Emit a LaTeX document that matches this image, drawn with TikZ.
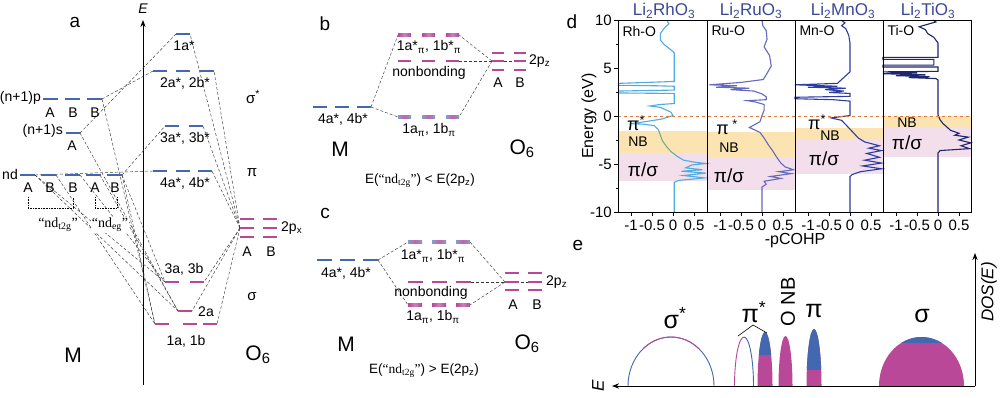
\documentclass[tikz,border=0pt]{standalone}
\usepackage{fontspec}
\setmainfont{Liberation Sans}
\newfontfamily\serifnd{Liberation Serif}
\usetikzlibrary{arrows.meta}

\definecolor{lvblue}{RGB}{67,104,176}
\definecolor{lvpink}{RGB}{185,72,152}
\definecolor{rhcol}{RGB}{80,172,222}
\definecolor{rhmid}{RGB}{110,175,140}
\definecolor{rucol}{RGB}{100,105,190}
\definecolor{mncol}{RGB}{45,60,160}
\definecolor{ticol}{RGB}{30,38,110}
\definecolor{titcol}{RGB}{60,72,150}
\definecolor{nbband}{RGB}{251,228,178}
\definecolor{psband}{RGB}{243,222,236}
\definecolor{efermi}{RGB}{225,125,60}

\newcommand{\fsz}[1]{\fontsize{#1}{#1}\selectfont}

\begin{document}
\begin{tikzpicture}[x=1pt, y=-1pt, >=Stealth,
    lvb/.style={lvblue, line width=2.7pt},
    lvp/.style={lvpink, line width=2.7pt},
    link/.style={gray!45!black, densely dashed, line width=0.45pt},
    lab/.style={font=\fsz{14}, inner sep=1pt},
    biglab/.style={font=\fsz{21}},
    panlab/.style={font=\fsz{19}},
    mixb/.style={left color=lvblue!65, right color=lvblue!65, middle color=lvpink!85},
    mixp/.style={left color=lvpink, right color=lvpink!80!lvblue, middle color=lvpink!70}]

    \fill[white] (0,0) rectangle (1000,397);
    \useasboundingbox (0,0) rectangle (1000,397);

    % ================= a: MO diagram of MO6 =================
    \node[panlab] (la) at (75,22) {a};
    % 1. energy axis
    \coordinate (eaxb) at (143,385);
    \coordinate (eaxt) at (143,20);
    \draw[->, line width=0.9pt] (eaxb) -- (eaxt);
    \node[font=\fsz{14}\itshape] (elab) at (143,9) {E};

    % 2. level ends
    \coordinate (np-r) at (102,99);
    \coordinate (ns-r) at (80,133);
    \coordinate (ndA1-r) at (35,175);
    \coordinate (ndB2-r) at (56,175);
    \coordinate (ndB3-r) at (80,175);
    \coordinate (ndA4-r) at (100,175);
    \coordinate (nd-r) at (122,175);
    \coordinate (a1-l) at (176,34);  \coordinate (a1-r) at (190,34);
    \coordinate (a2-l) at (153,71);  \coordinate (a2-r) at (214,71);
    \coordinate (a3-l) at (165,126); \coordinate (a3-r) at (203,126);
    \coordinate (a4-l) at (153,171); \coordinate (a4-r) at (212,171);
    \coordinate (b3-l) at (165,282); \coordinate (b3-r) at (204,282);
    \coordinate (b2-l) at (178,311); \coordinate (b2-r) at (192,311);
    \coordinate (b1-l) at (155,324); \coordinate (b1-r) at (217,324);
    \coordinate (oA-l) at (240,228);

    % 3. correlation lines
    \draw[link] (ns-r) -- (a1-l);
    \draw[link] (np-r) -- (a2-l);
    \draw[link] (np-r) -- (b1-l);
    \draw[link] (ns-r) -- (b2-l);
    \draw[link] (ndA1-r) -- (a4-l);
    \draw[link] (nd-r) -- (a3-l);
    \draw[link] (nd-r) -- (b3-l);
    \draw[link] (nd-r) -- (b1-l);
    \draw[link] (ndA1-r) -- (b3-l);
    \draw[link] (ndA1-r) -- (b2-l);
    \draw[link] (ndB2-r) -- (b1-l);
    \draw[link] (ndB3-r) -- (b3-l);
    \draw[link] (ndA4-r) -- (b2-l);
    \foreach \t in {a1-r,a2-r,a3-r,a4-r,b3-r,b2-r,b1-r}
        \draw[link] (oA-l) -- (\t);

    % 4. M levels
    \foreach \xa in {43,65,87} \draw[lvb] (\xa,99) -- ++(15,0);
    \draw[lvb] (66,133) -- ++(14,0);
    \foreach \xa in {20,41,65,86,107} \draw[lvb] (\xa,175) -- ++(15,0);
    \node[lab, anchor=east] (npl) at (42,98) {(n+1)p};
    \node[lab, anchor=east] (nsl) at (64,131) {(n+1)s};
    \node[lab, anchor=east] (ndl) at (19,174) {nd};
    \foreach \xa/\t [count=\i] in {50/A,73/B,95/B}
        \node[lab] (np\i) at (\xa,113) {\t};
    \node[lab] (ns1) at (72,146) {A};
    \foreach \xa/\t [count=\i] in {28/A,50/B,73/B,95/A,115/B}
        \node[lab] (nd\i) at (\xa,188) {\t};
    \draw[densely dotted, line width=0.6pt] (28,197) -- (28,208) -- (73,208) -- (73,197);
    \draw[densely dotted, line width=0.6pt] (95,197) -- (95,208) -- (117,208) -- (117,197);
    \node[font=\fsz{14}\serifnd, fill=white, inner sep=1pt] (t2g) at (58,225) {“nd\textsubscript{t2g}”};
    \node[font=\fsz{14}\serifnd, fill=white, inner sep=1pt] (eg) at (110,225) {“nd\textsubscript{eg}”};
    \node[biglab] (ma) at (73,355) {M};

    % 5. MO levels
    \draw[lvb] (a1-l) -- ++(14,0);
    \foreach \xa in {153,176,200} \draw[lvb] (\xa,71) -- ++(14,0);
    \foreach \xa in {165,189} \draw[lvb] (\xa,126) -- ++(14,0);
    \foreach \xa in {153,176,198} \draw[lvb] (\xa,171) -- ++(14,0);
    \foreach \xa in {165,190} \draw[lvp] (\xa,282) -- ++(14,0);
    \draw[lvp] (b2-l) -- ++(14,0);
    \foreach \xa in {155,183,203} \draw[lvp] (\xa,324) -- ++(14,0);
    \node[lab] (m1) at (184,46) {1a*};
    \node[lab] (m2) at (185,83) {2a*, 2b*};
    \node[lab] (m3) at (185,138) {3a*, 3b*};
    \node[lab] (m4) at (185,183) {4a*, 4b*};
    \node[lab] (m5) at (184,269) {3a, 3b};
    \node[lab] (m6) at (206,312) {2a};
    \node[lab] (m7) at (186,341) {1a, 1b};
    \node[font=\fsz{15}] (sgs) at (253,97) {σ\textsuperscript{*}};
    \node[font=\fsz{15}] (pia) at (252,173) {π};
    \node[font=\fsz{15}] (sga) at (252,297) {σ};

    % 6. O6 levels
    \foreach \ya in {219,228,237} {
        \draw[lvp] (240,\ya) -- ++(14,0);
        \draw[lvp] (263,\ya) -- ++(14,0);
    }
    \node[lab, anchor=west] (opx) at (280,228) {2p\textsubscript{x}};
    \node[lab] (oa) at (247,252) {A};
    \node[lab] (ob) at (271,252) {B};
    \node[biglab] (o6a) at (258,355) {O\textsubscript{6}};

    % ================= b: E(nd_t2g) < E(2p_z) =================
    \node[panlab] (lb) at (325,24) {b};
    \coordinate (bM-r) at (371,107);
    \coordinate (bU-l) at (398,35);  \coordinate (bU-r) at (459,35);
    \coordinate (bN-r) at (459,61);
    \coordinate (bL-l) at (398,117); \coordinate (bL-r) at (459,117);
    \coordinate (bO-l) at (492,61);  \coordinate (bO-e) at (514,61);
    \draw[link] (bM-r) -- (bU-l);
    \draw[link] (bM-r) -- (bL-l);
    \draw[link] (bO-l) -- (bU-r);
    \draw[link] (bO-l) -- (bL-r);
    \draw[link] (bN-r) -- (bO-e);
    \foreach \xa in {313,335,357} \draw[lvb] (\xa,107) -- ++(14,0);
    \foreach \xa in {398,422,446} {
        \shade[mixp] (\xa,33.5) rectangle ++(13,3);
        \draw[lvp] (\xa,61) -- ++(13,0);
        \shade[mixb] (\xa,115.5) rectangle ++(13,3);
    }
    \foreach \ya in {53,61,70} {
        \draw[lvp] (492,\ya) -- ++(12,0);
        \draw[lvp] (514,\ya) -- ++(12,0);
    }
    \node[lab] (b1) at (343,119) {4a*, 4b*};
    \node[lab] (b2) at (429,47) {1a*\textsubscript{π}, 1b*\textsubscript{π}};
    \node[lab] (b3) at (429,73) {nonbonding};
    \node[lab] (b4) at (429,130) {1a\textsubscript{π}, 1b\textsubscript{π}};
    \node[lab, anchor=west] (b5) at (528,61) {2p\textsubscript{z}};
    \node[lab] (b6) at (498,83) {A};
    \node[lab] (b7) at (520,83) {B};
    \node[biglab] (mb) at (340,149) {M};
    \node[biglab] (o6b) at (522,149) {O\textsubscript{6}};
    \node[font=\fsz{13.5}] (eqb) at (420,181) {E({\serifnd “nd\textsubscript{t2g}”}) < E(2p\textsubscript{z})};

    % ================= c: E(nd_t2g) > E(2p_z) =================
    \node[panlab] (lc) at (325,213) {c};
    \coordinate (cM-r) at (378,260);
    \coordinate (cU-l) at (408,242); \coordinate (cU-r) at (470,242);
    \coordinate (cN-r) at (471,282);
    \coordinate (cL-l) at (408,305); \coordinate (cL-r) at (470,305);
    \coordinate (cO-l) at (505,282); \coordinate (cO-e) at (528,282);
    \draw[link] (cM-r) -- (cU-l);
    \draw[link] (cM-r) -- (cL-l);
    \draw[link] (cO-l) -- (cU-r);
    \draw[link] (cO-l) -- (cL-r);
    \draw[link] (cN-r) -- (cO-e);
    \foreach \xa in {317,340,363} \draw[lvb] (\xa,260) -- ++(15,0);
    \foreach \xa in {408,432,456} {
        \shade[mixb] (\xa,240.5) rectangle ++(14,3);
        \draw[lvp] (\xa,282) -- ++(15,0);
        \shade[mixp] (\xa,303.5) rectangle ++(14,3);
    }
    \foreach \ya in {273,282,290} {
        \draw[lvp] (505,\ya) -- ++(14,0);
        \draw[lvp] (528,\ya) -- ++(14,0);
    }
    \node[lab] (c1) at (346,273) {4a*, 4b*};
    \node[lab] (c2) at (433,256) {1a*\textsubscript{π}, 1b*\textsubscript{π}};
    \node[lab] (c3) at (431,293) {nonbonding};
    \node[lab] (c4) at (433,317) {1a\textsubscript{π}, 1b\textsubscript{π}};
    \node[lab, anchor=west] (c5) at (545,282) {2p\textsubscript{z}};
    \node[lab] (c6) at (513,305) {A};
    \node[lab] (c7) at (537,305) {B};
    \node[biglab] (mc) at (346,344) {M};
    \node[biglab] (o6c) at (527,344) {O\textsubscript{6}};
    \node[font=\fsz{13.5}] (eqc) at (424,371) {E({\serifnd “nd\textsubscript{t2g}”}) > E(2p\textsubscript{z})};

    % ================= d: -pCOHP =================
    \node[panlab] (ld) at (572,22) {d};
    % 1. bands
    \fill[nbband] (618,131) rectangle (707,153);
    \fill[psband] (618,153) rectangle (707,181);
    \fill[nbband] (707,132) rectangle (795,158);
    \fill[psband] (707,158) rectangle (795,190);
    \fill[nbband] (795,128) rectangle (883,140);
    \fill[psband] (795,140) rectangle (883,174);
    \fill[nbband] (883,116) rectangle (971,128);
    \fill[psband] (883,128) rectangle (971,157);

    % 2. curves
    \begin{scope}[shift={(673pt,-116pt)}, x=42pt, y=9.6pt]
        \draw[rhcol, line width=1.1pt] plot coordinates {(-0.15,10) (-0.1,9.6) (-0.2,9.2) (-0.3,8.6) (-0.3,7.9) (-0.2,7.4) (-0.08,7.0) (0.03,6.6) (0.03,3.6) (-0.6,3.5) (-1.3,3.4) (-1.3,3.2) (-0.4,3.15) (0.03,3.1) (0.03,2.7) (-1.3,2.6) (-1.3,2.4) (0.03,2.35) (0.03,1.3) (-0.3,1.2) (-0.55,1.05) (-0.3,0.9) (-0.2,0.7) (-0.05,0.4) (0,0.05) (-0.25,-0.3) (-0.6,-0.55) (-1.0,-0.8) (-0.7,-0.85) (-0.45,-1.0) (-0.35,-1.4)};
        \draw[rhmid, line width=1.1pt] plot coordinates {(-0.35,-1.4) (-0.3,-2.0) (-0.25,-2.6) (-0.15,-3.2) (-0.05,-3.7) (0.1,-4.2)};
        \draw[rhcol, line width=1.1pt] plot coordinates {(0.1,-4.2) (0.25,-4.6) (0.5,-4.8) (0.78,-4.95) (0.45,-5.1) (0.3,-5.4) (0.7,-5.6) (0.2,-5.75) (0.78,-5.95) (0.25,-6.2) (0.75,-6.45) (0.15,-6.7) (0.03,-6.9) (0.03,-10)};
    \end{scope}
    \begin{scope}[shift={(762pt,-116pt)}, x=42pt, y=9.6pt]
        \draw[rucol, line width=1.1pt] plot coordinates {(0,10) (0.02,9.4) (0.1,8.9) (0.12,8.0) (0.05,7.2) (0.18,6.3) (0.22,5.2) (0.1,4.3) (0.03,3.8) (-0.5,3.5) (-1.25,3.25) (-0.6,3.15) (-1.1,3.0) (-0.3,2.9) (-0.75,2.75) (-0.2,2.6) (0,2.3) (0.1,2.0) (0.1,1.7) (-0.35,1.6) (-0.15,1.45) (0.05,1.2) (0.05,0.6) (0,0.05) (-0.05,-0.6) (-0.3,-1.2) (-0.2,-1.4) (-0.05,-1.7) (0.05,-2.3) (0.15,-3.0) (0.25,-3.6) (0.35,-4.3) (0.45,-4.9) (0.55,-5.3) (0.75,-5.6) (0.4,-5.8) (0.7,-6.0) (0.2,-6.3) (0.45,-6.5) (0.05,-6.8) (0.1,-7.1) (0,-7.4) (0,-10)};
    \end{scope}
    \begin{scope}[shift={(850pt,-116pt)}, x=42pt, y=9.6pt]
        \draw[mncol, line width=1.1pt] plot coordinates {(-0.22,10) (-0.12,9.7) (-0.2,9.4) (-0.1,9.1) (-0.03,8.4) (0,7.6) (0,4.6) (-0.3,3.4) (-1.31,3.25) (-0.3,3.1) (-1.0,3.0) (-0.1,2.9) (-0.6,2.75) (-0.15,2.6) (-0.5,2.45) (0,2.35) (0,2.05) (-1.31,1.95) (-1.31,1.8) (-0.4,1.7) (0,1.55) (0,0.05) (-0.45,-0.2) (-0.2,-0.45) (-0.08,-1.0) (0.05,-1.6) (0.2,-2.3) (0.35,-2.7) (0.7,-3.1) (0.45,-3.35) (0.75,-3.6) (0.4,-3.9) (0.7,-4.3) (0.35,-4.6) (0.75,-4.9) (0.3,-5.2) (0.75,-5.5) (0.25,-5.8) (0.05,-6.1) (0,-6.3) (0,-10)};
    \end{scope}
    \begin{scope}[shift={(938pt,-116pt)}, x=42pt, y=9.6pt]
        \draw[ticol, line width=1.1pt] plot coordinates {(-0.12,10) (-0.05,9.8) (-0.45,9.3) (-0.3,9.0) (-0.25,8.6) (-0.1,8.2) (0,7.6) (0,6.1) (-1.31,6.1) (-1.31,5.9) (-0.1,5.9) (-0.1,5.3) (-1.31,5.3) (-1.31,5.1) (0,5.1) (0,4.65) (-1.31,4.6) (-0.5,4.5) (-1.31,4.4) (-0.3,4.3) (-1.0,4.2) (-0.2,4.1) (-0.7,4.0) (-0.05,3.9) (0,3.75) (0,0.1) (0.05,-0.4) (0.12,-0.8) (0.2,-1.1) (0.3,-1.5) (0.5,-1.8) (0.4,-2.0) (0.72,-2.2) (0.5,-2.5) (0.78,-2.8) (0.55,-3.1) (0.75,-3.4) (0.05,-3.6) (0,-3.85) (0,-10)};
    \end{scope}

    % 3. Fermi level and frames
    \draw[efermi, dashed, line width=0.9pt] (618,116) -- (971,116);
    \draw[line width=0.7pt] (618,20) rectangle (971,212);
    \foreach \xa in {707,795,883} \draw[line width=0.7pt] (\xa,20) -- (\xa,212);
    \foreach \ya/\t in {20/10,68/5,116/0,164/-5,212/-10} {
        \draw[line width=0.6pt] (614,\ya) -- (618,\ya);
        \node[font=\fsz{15}, anchor=east, inner sep=1pt] at (613,\ya) {\t};
    }
    \foreach \ya in {44,92,140,188} \draw[line width=0.6pt] (616,\ya) -- (618,\ya);
    \foreach \xo in {673,762,850,938} {
        \foreach \dx/\t in {-42/-1,-21/-0.5,0/0,21/0.5} {
            \draw[line width=0.6pt] (\xo+\dx,212) -- (\xo+\dx,216);
            \node[font=\fsz{15}] at (\xo+\dx,225) {\t};
        }
    }
    \node[font=\fsz{16}, rotate=90] (eylab) at (589,116) {Energy (eV)};
    \node[font=\fsz{16}] (exlab) at (795,241) {-pCOHP};

    % 4. titles and band labels
    \node[font=\fsz{17}, text=titcol] (t1) at (664,11) {Li\textsubscript{2}RhO\textsubscript{3}};
    \node[font=\fsz{17}, text=titcol] (t2) at (751,11) {Li\textsubscript{2}RuO\textsubscript{3}};
    \node[font=\fsz{17}, text=titcol] (t3) at (843,11) {Li\textsubscript{2}MnO\textsubscript{3}};
    \node[font=\fsz{17}, text=titcol] (t4) at (928,11) {Li\textsubscript{2}TiO\textsubscript{3}};
    \node[font=\fsz{14}, anchor=west] (p1) at (619,31) {Rh-O};
    \node[font=\fsz{14}, anchor=west] (p2) at (708,31) {Ru-O};
    \node[font=\fsz{14}, anchor=west] (p3) at (796,31) {Mn-O};
    \node[font=\fsz{14}, anchor=west] (p4) at (884,30) {Ti-O};
    \node[font=\fsz{18}] (s1) at (636,123) {π\textsuperscript{*}};
    \node[font=\fsz{14}] (n1) at (638,142) {NB};
    \node[font=\fsz{19}] (q1) at (643,170) {π/σ};
    \node[font=\fsz{18}] (s2) at (727,127) {π\textsuperscript{ *}};
    \node[font=\fsz{14}] (n2) at (729,148) {NB};
    \node[font=\fsz{19}] (q2) at (729,176) {π/σ};
    \node[font=\fsz{18}] (s3) at (817,122) {π\textsuperscript{*}};
    \node[font=\fsz{14}] (n3) at (830,136) {NB};
    \node[font=\fsz{19}] (q3) at (824,159) {π/σ};
    \node[font=\fsz{14}] (n4) at (907,123) {NB};
    \node[font=\fsz{19}] (q4) at (907,143) {π/σ};

    % ================= e: schematic DOS =================
    \node[panlab] (le) at (578,245) {e};
    % 1. sigma* (empty)
    \draw[lvblue, line width=0.9pt] (628,386) arc[start angle=180, end angle=0, x radius=43pt, y radius=49pt];
    \draw[lvpink, line width=0.9pt] (643.36,348.46) arc[start angle=130, end angle=50, x radius=43pt, y radius=49pt];
    % 2. pi* (empty and filled)
    \draw[lvpink, line width=0.9pt] (734.5,386) arc[start angle=180, end angle=90, x radius=9.5pt, y radius=49pt];
    \draw[lvblue, line width=0.9pt] (744,337) arc[start angle=90, end angle=0, x radius=9.5pt, y radius=49pt];
    \begin{scope}
        \clip (757.5,386) arc[start angle=180, end angle=0, x radius=7.5pt, y radius=54pt] -- cycle;
        \fill[lvpink] (750,320) rectangle (780,387);
        \fill[lvblue] (750,320) rectangle (780,355);
    \end{scope}
    % 3. O NB
    \fill[lvpink] (778.5,386) arc[start angle=180, end angle=0, x radius=7pt, y radius=50pt] -- cycle;
    % 4. pi
    \begin{scope}
        \clip (806.5,386) arc[start angle=180, end angle=0, x radius=7.5pt, y radius=57pt] -- cycle;
        \fill[lvpink] (800,320) rectangle (830,387);
        \fill[lvblue] (800,320) rectangle (830,370);
    \end{scope}
    % 5. sigma
    \begin{scope}
        \clip (879,386) arc[start angle=180, end angle=0, x radius=42.5pt, y radius=49pt] -- cycle;
        \fill[lvpink] (870,330) rectangle (970,387);
        \fill[lvblue] (870,330) rectangle (970,343);
    \end{scope}
    % 6. axes
    \coordinate (eo) at (975,386);
    \coordinate (ex) at (612,386);
    \coordinate (ey) at (975,253);
    \draw[->, line width=0.9pt] (eo) -- (ex);
    \draw[->, line width=0.9pt] (eo) -- (ey);
    \node[font=\fsz{17}\itshape, rotate=90] (dos) at (989,292) {DOS(E)};
    \node[font=\fsz{17}\itshape, rotate=90] (eel) at (598,386) {E};
    % 7. labels
    \coordinate (br1) at (738,336);
    \coordinate (br2) at (753,325);
    \coordinate (br3) at (767,333);
    \draw[line width=0.6pt] (br1) -- (br2) -- (br3);
    \node[font=\fsz{25}] (e1) at (675,318) {σ\textsuperscript{*}};
    \node[font=\fsz{25}] (e2) at (754,312) {π\textsuperscript{*}};
    \node[font=\fsz{20}, rotate=90] (e3) at (788,302) {O NB};
    \node[font=\fsz{25}] (e4) at (814,311) {π};
    \node[font=\fsz{25}] (e5) at (922,316) {σ};
\end{tikzpicture}
\end{document}
